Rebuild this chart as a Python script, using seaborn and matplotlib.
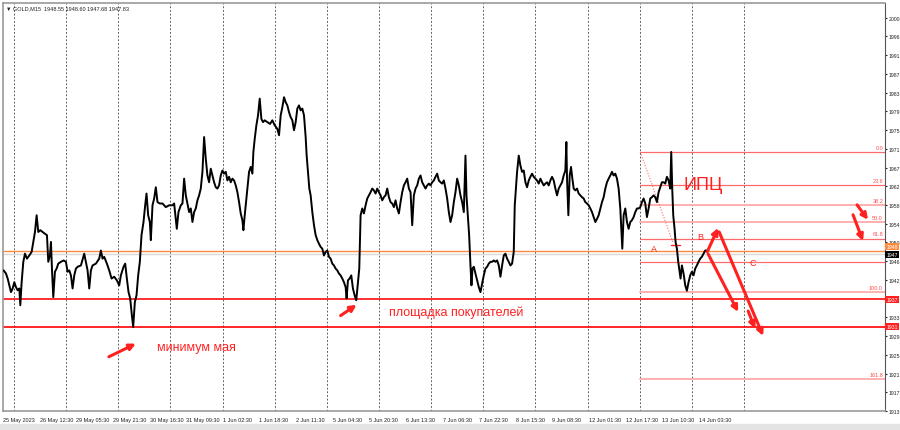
import numpy as np
import pandas as pd
import seaborn as sns
import matplotlib.pyplot as plt

# GOLD M15 price path (t = time step along the chart, ~9 minutes each)
t = [8, 15, 20, 25, 30, 35, 40, 45, 50, 55, 58, 62, 67, 72, 78, 85, 92, 97, 102, 107,
     112, 118, 125, 132, 138, 142, 147, 150, 153, 157, 162, 167, 172, 180, 188, 195, 200, 205, 210, 215,
     220, 225, 230, 240, 250, 255, 260, 265, 270, 275, 285, 295, 300, 305, 310, 318, 325, 332, 340, 348,
     355, 360, 368, 373, 378, 383, 388, 393, 397, 402, 407, 412, 417, 422, 428, 433, 437, 442, 447, 450,
     455, 460, 465, 470, 477, 485, 495, 505, 515, 520, 525, 528, 533,
     540, 545, 550, 555, 560, 565, 570, 575, 580, 585, 590, 595, 600, 605, 610, 615, 620, 625, 630, 635,
     640, 645, 650, 655, 660, 665, 670, 675, 680, 685, 690, 695, 700, 705, 710, 715, 720, 725, 728, 732,
     736, 740, 745, 750, 755, 758, 762, 767, 772, 777, 782, 787, 792, 800, 808, 815, 822, 830, 835, 840,
     845, 850, 855, 860, 865, 870, 875, 880, 885, 890, 895, 900, 905, 910, 915, 918, 922, 926, 930, 935,
     940, 945, 950, 955, 960, 965, 970, 975, 980, 985, 990, 995, 1000, 1005, 1010, 1015, 1020, 1025, 1030, 1035,
     1038, 1042, 1047, 1052, 1057, 1062, 1067, 1072, 1076,
     1080, 1085, 1090, 1095, 1100, 1105, 1110, 1115, 1120, 1125, 1130, 1135, 1140, 1145, 1150, 1155, 1160, 1165,
     1170, 1175, 1180, 1185, 1190, 1195, 1200, 1205, 1210, 1215, 1220, 1225, 1230, 1235, 1240, 1245, 1250, 1255,
     1260, 1265, 1270, 1275, 1280, 1285, 1290, 1295, 1300, 1305, 1310, 1315, 1320, 1325, 1330, 1335, 1340, 1345,
     1350, 1355, 1360, 1365, 1370, 1375, 1380, 1385, 1390, 1395, 1398, 1402, 1406, 1410, 1413, 1416, 1420, 1425,
     1430, 1435, 1440, 1445, 1450, 1455, 1460, 1465, 1470, 1475, 1480, 1485, 1490, 1495, 1500, 1505, 1510, 1515,
     1520, 1525, 1530, 1535, 1540, 1543, 1547, 1550, 1555, 1560, 1565, 1570, 1575, 1580, 1585, 1590, 1595, 1600,
     1605, 1610, 1615,
     1620, 1625, 1630, 1635, 1640, 1645, 1650, 1655, 1660, 1665, 1670, 1675, 1680, 1685, 1690, 1695, 1698, 1700,
     1704, 1708, 1712, 1716, 1720, 1725, 1730, 1735, 1740, 1745, 1750, 1755, 1760, 1765, 1770, 1775, 1780, 1785,
     1790, 1795, 1800, 1805, 1810, 1815, 1820, 1825, 1830, 1835, 1840, 1845, 1850, 1855, 1860, 1863, 1866, 1870,
     1875, 1880, 1885, 1890, 1895, 1900, 1905, 1910, 1915, 1920, 1925, 1930, 1935, 1940, 1945, 1950, 1955, 1960,
     1965, 1970, 1975, 1980, 1985, 1990, 1995, 2000, 2005, 2010, 2013, 2016, 2019, 2023, 2026, 2030, 2034, 2038,
     2041, 2045, 2050, 2055, 2060, 2065, 2070, 2075, 2080, 2085, 2090, 2095, 2100, 2105, 2110, 2115, 2120]

close = [1944.1, 1943.4, 1942.3, 1940.8, 1939.3, 1940.1, 1941.5, 1940.4, 1939.7, 1940.1, 1936.4, 1941.5, 1946.0, 1947.8, 1946.7, 1947.4, 1948.2, 1950.4, 1952.6, 1956.3,
         1952.6, 1953.0, 1952.6, 1952.2, 1951.9, 1946.0, 1947.4, 1950.4, 1944.5, 1938.2, 1943.8, 1944.5, 1945.6, 1946.0, 1946.3, 1946.0, 1943.8, 1944.1, 1943.0, 1940.1,
         1943.0, 1944.5, 1944.9, 1945.2, 1947.8, 1946.0, 1944.1, 1940.1, 1944.1, 1945.2, 1945.6, 1946.7, 1948.5, 1946.7, 1947.1, 1945.6, 1944.1, 1942.3, 1942.7, 1941.9,
         1940.8, 1943.0, 1944.9, 1945.6, 1942.3, 1939.3, 1937.9, 1934.2, 1931.6, 1937.1, 1938.6, 1943.0, 1946.0, 1951.9, 1954.8, 1958.5, 1961.1, 1956.3, 1954.8, 1950.8,
         1958.5, 1960.0, 1962.5, 1959.2, 1958.9, 1958.9, 1958.1, 1958.5, 1958.5, 1958.9, 1955.5, 1953.3, 1957.0,
         1958.5, 1958.9, 1964.4, 1960.7, 1958.9, 1957.0, 1957.8, 1954.8, 1957.0, 1957.8, 1959.6, 1960.7, 1962.2, 1965.9, 1973.6, 1968.8, 1965.1, 1963.6, 1966.6, 1965.1,
         1963.6, 1962.5, 1962.2, 1962.9, 1965.1, 1966.2, 1965.5, 1965.9, 1964.0, 1964.8, 1963.6, 1964.4, 1964.0, 1962.9, 1961.4, 1959.2, 1956.7, 1955.2, 1953.0, 1956.3,
         1959.2, 1962.2, 1965.9, 1967.0, 1965.5, 1970.3, 1973.2, 1976.2, 1978.4, 1982.1, 1977.6, 1976.9, 1977.3, 1976.9, 1976.5, 1977.3, 1976.2, 1975.4, 1974.0, 1978.4,
         1980.2, 1982.4, 1981.3, 1980.6, 1979.1, 1978.0, 1977.3, 1975.1, 1976.9, 1979.9, 1980.6, 1979.5, 1979.9, 1978.4, 1973.6, 1969.5, 1965.9, 1962.2, 1960.7, 1957.0,
         1954.1, 1951.9, 1950.8, 1950.0, 1949.3, 1948.9, 1947.4, 1948.2, 1948.5, 1947.1, 1946.7, 1945.6, 1945.2, 1944.5, 1944.1, 1943.4, 1943.0, 1942.3, 1941.5, 1940.4,
         1937.9, 1941.9, 1942.3, 1943.0, 1940.1, 1938.6, 1937.5, 1941.5, 1944.5,
         1956.3, 1957.8, 1956.7, 1958.5, 1960.0, 1960.7, 1961.4, 1962.2, 1961.8, 1961.1, 1962.2, 1961.4, 1960.7, 1959.6, 1960.3, 1960.7, 1962.2, 1960.3,
         1959.2, 1958.9, 1958.1, 1959.6, 1957.8, 1956.7, 1959.2, 1961.4, 1962.9, 1963.6, 1964.4, 1962.2, 1961.4, 1954.1, 1960.7, 1962.2, 1962.9, 1964.4,
         1965.1, 1963.6, 1962.9, 1962.2, 1962.9, 1963.3, 1962.9, 1963.6, 1964.0, 1964.8, 1965.5, 1964.0, 1963.6, 1963.3, 1964.0, 1962.2, 1960.0, 1957.0,
         1954.8, 1956.3, 1959.2, 1961.4, 1964.4, 1962.9, 1960.7, 1959.2, 1957.0, 1969.5, 1960.7, 1956.3, 1951.9, 1945.2, 1940.8, 1944.5, 1944.9, 1943.4,
         1941.9, 1940.4, 1939.3, 1941.2, 1943.0, 1944.5, 1944.9, 1945.6, 1946.0, 1946.0, 1946.3, 1946.0, 1946.3, 1945.2, 1942.7, 1945.2, 1947.4, 1947.8,
         1946.7, 1946.0, 1945.2, 1945.6, 1948.2, 1958.5, 1962.9, 1965.9, 1969.5, 1967.3, 1965.9, 1966.2, 1963.6, 1962.5, 1964.0, 1964.8, 1965.5, 1964.8,
         1964.4, 1964.0, 1963.3,
         1964.4, 1963.6, 1962.9, 1963.3, 1963.6, 1962.9, 1964.0, 1964.8, 1964.0, 1962.2, 1960.7, 1962.2, 1962.9, 1963.6, 1965.1, 1966.2, 1972.5, 1964.4,
         1956.3, 1965.1, 1967.0, 1964.4, 1962.2, 1961.8, 1962.2, 1961.1, 1960.7, 1960.3, 1960.0, 1959.2, 1958.9, 1958.5, 1957.8, 1957.0, 1955.9, 1954.8,
         1955.5, 1956.3, 1957.8, 1959.2, 1960.3, 1962.2, 1963.6, 1964.4, 1965.1, 1965.9, 1965.1, 1965.5, 1964.4, 1962.2, 1957.8, 1953.3, 1948.9, 1956.3,
         1957.8, 1954.8, 1953.3, 1954.8, 1955.2, 1955.9, 1957.0, 1957.8, 1957.8, 1958.1, 1959.2, 1960.0, 1958.9, 1955.9, 1957.8, 1960.0, 1960.3, 1960.7,
         1960.3, 1959.2, 1961.4, 1962.5, 1963.6, 1963.6, 1963.3, 1964.8, 1964.0, 1962.2, 1970.3, 1962.2, 1956.3, 1953.3, 1950.4, 1948.9, 1946.0, 1943.8,
         1942.3, 1945.2, 1943.4, 1940.8, 1939.6, 1941.5, 1943.0, 1943.8, 1943.0, 1944.5, 1945.2, 1946.0, 1946.7, 1947.1, 1947.8, 1948.5, 1948.5]

date_labels = ["25 May 2023", "26 May 12:30", "29 May 05:30", "29 May 21:30", "30 May 16:30",
               "31 May 09:30", "1 Jun 02:30", "1 Jun 18:30", "2 Jun 11:30", "5 Jun 04:30",
               "5 Jun 20:30", "6 Jun 13:30", "7 Jun 06:30", "7 Jun 22:30", "8 Jun 15:30",
               "9 Jun 08:30", "12 Jun 01:30", "12 Jun 17:30", "13 Jun 10:30", "14 Jun 03:30"]
price_labels = ["2000", "1996", "1991", "1987", "1983", "1979", "1975", "1971", "1967", "1962", "1958",
                "1954", "1950", "1946", "1942", "1937", "1933", "1929", "1925", "1921", "1917", "1913"]

fib_names = ["0.0", "23.6", "38.2", "50.0", "61.8", "100.0", "161.8"]
fib_prices = [1970.3, 1963.0, 1958.5, 1954.8, 1951.1, 1939.3, 1920.1]
level_c = 1945.9
support = [1937.7, 1931.6]
support_names = ["1937", "1931"]
ask_line = 1948.4
bid_line = 1947.8

df = pd.DataFrame({"t": t, "close": close})

sns.set_style("white")
plt.rcParams['font.family'] = ['Liberation Sans', 'DejaVu Sans']

fig = plt.figure(figsize=(9, 4.31), dpi=100)
ax = fig.add_axes([3 / 900, 1 - 412 / 431, 882 / 900, 408 / 431])
red = "#ff2020"
small = 4.0
scale_fs = 3.7

x_lo, x_hi = 9, 2655
ax.set_xlim(x_lo, x_hi)
ax.set_ylim(1913.0, 2003.25)

# vertical dashed grid
step_grid = 156.6
for k in range(15):
    ax.axvline(39 + k * step_grid, color="#444444", lw=0.6, ls=(0, (2.2, 2.2)), zorder=0)

# full width levels
ax.axhline(bid_line, color="#d8d8d8", lw=1.0, zorder=1)
ax.axhline(ask_line, color="#ff8a3d", lw=1.0, zorder=1)
ax.axhline(support[0], color="#ff3030", lw=1.4, zorder=1)
ax.axhline(support[1], color="#ff0000", lw=1.2, zorder=1)

# fibonacci grid
fib_start = 1920
for name, p in zip(fib_names, fib_prices):
    light = name in ("38.2", "50.0", "100.0", "161.8")
    ax.plot([fib_start, x_hi], [p, p], color="#ffb0b0" if light else "#ff6a6a",
            lw=1.4 if light else 0.9, zorder=1)
    ax.text(x_hi - 6, p + 0.5, name, color="#ff5050", fontsize=small, ha="right", va="bottom")
ax.plot([fib_start, x_hi], [level_c, level_c], color="#ff6a6a", lw=0.9, zorder=1)
ax.plot([fib_start, 2019], [fib_prices[0], 1950.1], color="#ff6a6a", lw=0.8, ls=(0, (1, 1.5)))
ax.plot([2013, 2040], [1949.7, 1949.7], color=red, lw=1.0)

# price path
sns.lineplot(data=df, x="t", y="close", ax=ax, color="black", lw=1.4,
             estimator=None, sort=False, zorder=3)

# annotations
arrow = dict(arrowstyle="-|>", color=red, lw=2.2, mutation_scale=9, shrinkA=0, shrinkB=0)
ax.annotate("", xy=(405, 1927.9), xytext=(324, 1925.0), arrowprops=arrow)
ax.annotate("", xy=(1068, 1936.5), xytext=(1020, 1934.1), arrowprops=arrow)
ax.text(468, 1927.2, "минимум мая", color=red, fontsize=9, va="center", ha="left")
ax.text(1164, 1934.9, "площадка покупателей", color=red, fontsize=9, va="center", ha="left")
ax.text(2049, 1963.0, "ИПЦ", color=red, fontsize=13, va="center", ha="left")
ax.text(1953, 1948.9, "A", color=red, fontsize=6.5, va="center", ha="left")
ax.text(2091, 1951.6, "B", color=red, fontsize=6.5, va="center", ha="left")
ax.text(2247, 1945.9, "C", color=red, fontsize=6.5, va="center", ha="left")
ax.annotate("", xy=(2154, 1953.5), xytext=(2121, 1948.2), arrowprops=arrow)
ax.annotate("", xy=(2289, 1929.6), xytext=(2157, 1952.6), arrowprops=arrow)
ax.annotate("", xy=(2214, 1934.9), xytext=(2124, 1947.7), arrowprops=arrow)
ax.annotate("", xy=(2265, 1931.2), xytext=(2244, 1935.1), arrowprops=arrow)
ax.annotate("", xy=(2604, 1955.3), xytext=(2571, 1958.6), arrowprops=arrow)
ax.annotate("", xy=(2589, 1950.6), xytext=(2559, 1956.4), arrowprops=arrow)

# axes, ticks (the tick under a price tag is covered by the tag, as on the terminal)
tick_vals = [2000 - k * 87 / 21 for k in range(len(price_labels))]
ax.set_yticks(tick_vals)
ax.set_yticklabels(["" if s in support_names else s for s in price_labels])
ax.yaxis.tick_right()
ax.tick_params(axis="y", labelsize=scale_fs, length=1.5, pad=1, colors="#222222")
x_ticks = [6 + 110 * k for k in range(len(date_labels))]
ax.set_xticks(x_ticks)
ax.set_xticklabels(date_labels, ha="left")
ax.tick_params(axis="x", labelsize=small, length=2, pad=2, colors="#222222")
ax.set_xlabel("")
ax.set_ylabel("")
for side in ("left", "top", "bottom"):
    ax.spines[side].set_color("#9a9a9a")
    ax.spines[side].set_linewidth(1.2)
ax.spines["right"].set_color("#555555")
ax.spines["right"].set_linewidth(0.8)

# price tags on the right scale
def tag(price, text, bg, fg):
    ax.text(1.0015, price, text, transform=ax.get_yaxis_transform(), fontsize=scale_fs,
            color=fg, va="center", ha="left", zorder=5,
            bbox=dict(boxstyle="square,pad=0.2", fc=bg, ec="none"))

tag(1949.3, "1948", "#ff8a3d", "#ffffff")
tag(1947.6, "1947", "#000000", "#ffffff")
tag(support[0], support_names[0], "#ff2020", "#ffffff")
tag(support[1], support_names[1], "#ff2020", "#ffffff")

fig.text(6 / 900, 1 - 9 / 431, "▼ GOLD,M15  1948.55 1948.60 1947.68 1947.83",
         fontsize=small, va="center", ha="left", color="#222222")
fig.patches.append(plt.Rectangle((0, 0), 1, 6 / 431, transform=fig.transFigure,
                                 color="#e4e4e4", zorder=0))

fig.savefig("out.png", dpi=100)
